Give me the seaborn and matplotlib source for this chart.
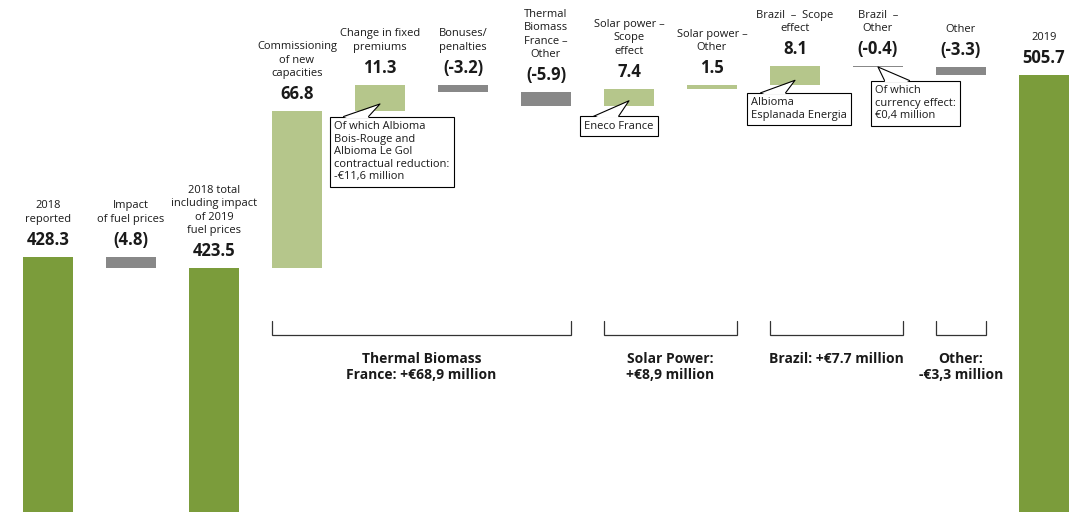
import numpy as np
import pandas as pd
import matplotlib
matplotlib.use('Agg')
import matplotlib.pyplot as plt
import seaborn as sns
from matplotlib.patches import Polygon
from matplotlib.transforms import IdentityTransform

# data (EUR million)
steps = ['2018\nreported', 'Impact\nof fuel prices',
         '2018 total\nincluding impact\nof 2019\nfuel prices',
         'Commissioning\nof new\ncapacities', 'Change in fixed\npremiums',
         'Bonuses/\npenalties', 'Thermal\nBiomass\nFrance –\nOther',
         'Solar power –\nScope\neffect', 'Solar power –\nOther',
         'Brazil  –  Scope\neffect', 'Brazil  –\nOther', 'Other', '2019']
amounts = [428.3, -4.8, 423.5, 66.8, 11.3, -3.2, -5.9, 7.4, 1.5, 8.1, -0.4, -3.3, 505.7]
is_total = [True, False, True, False, False, False, False, False, False, False, False, False, True]
value_labels = ['428.3', '(4.8)', '423.5', '66.8', '11.3', '(-3.2)', '(-5.9)',
                '7.4', '1.5', '8.1', '(-0.4)', '(-3.3)', '505.7']

groups = ['Thermal Biomass\nFrance: +€68,9 million', 'Solar Power:\n+€8,9 million',
          'Brazil: +€7.7 million', 'Other:\n-€3,3 million']
group_first = [3, 7, 9, 11]
group_last = [6, 8, 10, 11]

callout_texts = ['Of which Albioma\nBois-Rouge and\nAlbioma Le Gol\ncontractual reduction:\n-€11,6 million',
                 'Eneco France', 'Albioma\nEsplanada Energia',
                 'Of which\ncurrency effect:\n€0,4 million']
callout_bars = [4, 7, 9, 10]

# waterfall bottoms / heights
bottoms, heights = [], []
run = 0
for amt, tot in zip(amounts, is_total):
    if tot:
        bottoms.append(0)
        heights.append(amt)
        run = amt
    else:
        bottoms.append(run + min(amt, 0))
        heights.append(abs(amt))
        run += amt
tops = [b + h for b, h in zip(bottoms, heights)]

df = pd.DataFrame({'step': steps, 'height': heights})

DARK = '#7b9c3b'
LIGHT = '#b5c68b'
GREY = '#888888'
colors = [DARK if t else (LIGHT if a > 0 else GREY) for a, t in zip(amounts, is_total)]

sns.set_style('white')
plt.rcParams['font.family'] = ['Open Sans', 'DejaVu Sans']

fig = plt.figure(figsize=(10.83, 5.12), dpi=100)
ax = fig.add_axes([0, 0, 1, 1])
sns.barplot(data=df, x='step', y='height', order=steps, bottom=bottoms,
            width=0.6, errorbar=None, color=DARK, saturation=1, ax=ax)
for p, c in zip(ax.patches, colors):
    p.set_facecolor(c)
    p.set_edgecolor('none')

ax.set_xlim(-0.578, 12.47)
ax.set_ylim(319.7, 537.6)
ax.axis('off')

for i in range(len(steps)):
    ax.annotate(value_labels[i], xy=(i, tops[i]), xytext=(0, 17), textcoords='offset pixels',
                ha='center', va='center', fontsize=12, fontweight='bold', color='#1a1a1a')
    ax.annotate(steps[i], xy=(i, tops[i]), xytext=(0, 32), textcoords='offset pixels',
                ha='center', va='bottom', fontsize=8, color='#1a1a1a', linespacing=1.3)

# brackets + group labels
trans = matplotlib.transforms.blended_transform_factory(ax.transData, ax.transAxes)
for g, a, b in zip(groups, group_first, group_last):
    x0, x1 = a - 0.3, b + 0.3
    ax.plot([x0, x0, x1, x1], [0.373, 0.346, 0.346, 0.373], color='#333333', lw=0.9,
            transform=trans, solid_joinstyle='miter')
    ax.text((x0 + x1) / 2, 0.312, g, transform=trans, ha='center', va='top',
            fontsize=10, fontweight='bold', color='#1a1a1a', linespacing=1.15)

# callouts: text box + hand-drawn speech wedge pointing into the bar
offsets = [(-46, -17), (-45, -20), (-44, -17), (-3, -18)]
fracs = [0.27, 0.3, 0.25, 0.0]
pad_px = 0.4 * 8 * 100 / 72
for txt, i, off, fr in zip(callout_texts, callout_bars, offsets, fracs):
    tip = (i, bottoms[i] + fr * heights[i])
    ax.annotate(txt, xy=tip, xytext=off, textcoords='offset pixels',
                ha='left', va='top', fontsize=8, color='#1a1a1a', linespacing=1.2,
                bbox=dict(boxstyle='square,pad=0.4', fc='white', ec='black', lw=0.8),
                zorder=3)
    tx, ty = ax.transData.transform(tip)
    left = tx + off[0] - pad_px
    top = ty + off[1] + pad_px
    bl, br = left + 14, left + 39
    ax.add_patch(Polygon([(tx, ty), (bl + 0.5, top - 1.5), (br - 0.5, top - 1.5)],
                         closed=True, fc='white', ec='none', transform=IdentityTransform(),
                         zorder=4))
    ax.plot([bl, tx, br], [top, ty, top], color='black', lw=0.8,
            transform=IdentityTransform(), zorder=5)

fig.savefig('out.png', dpi=100)
